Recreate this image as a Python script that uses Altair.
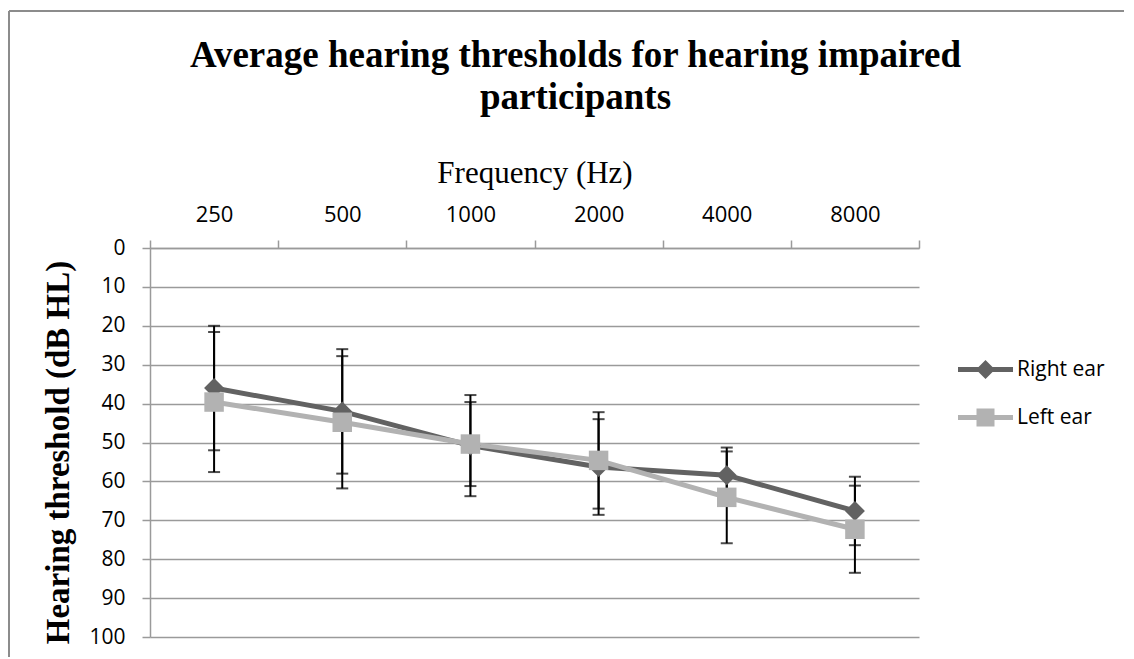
import altair as alt
import pandas as pd

freqs = ["250", "500", "1000", "2000", "4000", "8000"]
right_mean = [36.0, 42.0, 50.8, 56.3, 58.4, 67.6]
right_err = [16.0, 16.0, 13.0, 12.3, 7.1, 8.8]
left_mean = [39.6, 44.8, 50.4, 54.6, 64.1, 72.3]
left_err = [18.0, 17.0, 10.8, 12.4, 11.8, 11.2]
series_names = ["Right ear", "Left ear"]
y_ticks = list(range(0, 101, 10))

DARK = "#626262"
LIGHT = "#b2b2b2"
GRID = "#9a9a9a"

rows = []
for name, means, errs in [("Right ear", right_mean, right_err), ("Left ear", left_mean, left_err)]:
    for f, m, e in zip(freqs, means, errs):
        rows.append({"freq": f, "series": name, "mean": m, "lo": m - e, "hi": m + e})
df = pd.DataFrame(rows)

x_enc = alt.X(
    "freq:O", sort=freqs, bandPosition=0.5,
    scale=alt.Scale(type="band", paddingInner=0, paddingOuter=0),
    axis=alt.Axis(
        orient="top", labelAngle=0, title="Frequency (Hz)", tickBand="extent",
        titleFont="Liberation Serif", titleFontSize=31, titleFontWeight="normal",
        titleColor="black", titlePadding=14,
        labelFont="Open Sans", labelFontSize=22, labelColor="black", labelPadding=14,
        tickSize=8, tickColor=GRID, domainColor=GRID, domainWidth=1.5, tickWidth=1.5,
        grid=False,
    ),
)
y_scale = alt.Scale(domain=[0, 100], reverse=True, nice=False)
y_axis = alt.Axis(
    values=y_ticks, title="Hearing threshold (dB HL)",
    titleFont="Liberation Serif", titleFontSize=33, titleFontWeight="bold",
    titleColor="black", titlePadding=13, titleY=204,
    labelFont="Open Sans", labelFontSize=21, labelColor="black", labelPadding=17,
    tickSize=8, tickColor=GRID, domainColor=GRID, domainWidth=1.5, tickWidth=1.5,
    grid=True, gridColor=GRID, gridWidth=1.5,
)

base = alt.Chart(df)

err_rule = base.mark_rule(color="black", strokeWidth=2).encode(
    x=x_enc, y=alt.Y("lo:Q", scale=y_scale, axis=y_axis), y2="hi:Q"
)
err_lo = base.mark_tick(color="black", thickness=2, size=12, orient="horizontal").encode(
    x=x_enc, y=alt.Y("lo:Q", scale=y_scale, axis=y_axis)
)
err_hi = base.mark_tick(color="black", thickness=2, size=12, orient="horizontal").encode(
    x=x_enc, y=alt.Y("hi:Q", scale=y_scale, axis=y_axis)
)

line_r = base.transform_filter(alt.datum.series == "Right ear").mark_line(
    color=DARK, strokeWidth=5
).encode(x=x_enc, y=alt.Y("mean:Q", scale=y_scale, axis=y_axis))
line_l = base.transform_filter(alt.datum.series == "Left ear").mark_line(
    color=LIGHT, strokeWidth=5
).encode(x=x_enc, y=alt.Y("mean:Q", scale=y_scale, axis=y_axis))
pt_r = base.transform_filter(alt.datum.series == "Right ear").mark_point(
    shape="diamond", filled=True, color=DARK, size=400, opacity=1
).encode(x=x_enc, y=alt.Y("mean:Q", scale=y_scale, axis=y_axis))
pt_l = base.transform_filter(alt.datum.series == "Left ear").mark_point(
    shape="square", filled=True, color=LIGHT, size=380, opacity=1
).encode(x=x_enc, y=alt.Y("mean:Q", scale=y_scale, axis=y_axis))

path_r = "M-2.75,-0.25H2.75V0.25H-2.75ZM0,-0.95L0.95,0L0,0.95L-0.95,0Z"
path_l = "M-2.75,-0.25H2.75V0.25H-2.75ZM-0.9,-0.9H0.9V0.9H-0.9Z"
leg = alt.Legend(
    title=None, orient="none", legendX=825, legendY=111, padding=0,
    labelFont="Open Sans", labelFontSize=21, labelColor="black",
    symbolSize=400, symbolStrokeWidth=0, symbolOpacity=1,
    labelOffset=21, rowPadding=26,
)
legend_layer = base.transform_filter(alt.datum.series == "none").mark_point(
    filled=True, opacity=1
).encode(
    x=x_enc, y=alt.Y("mean:Q", scale=y_scale, axis=y_axis),
    color=alt.Color("series:N", scale=alt.Scale(domain=series_names, range=[DARK, LIGHT]), legend=leg),
    shape=alt.Shape("series:N", scale=alt.Scale(domain=series_names, range=[path_r, path_l]), legend=leg),
)

frame = alt.Chart(alt.Data(values=[{}]))
top_border = frame.mark_rule(color="#8c8c8c", strokeWidth=2).encode(
    x=alt.value(-141), x2=alt.value(1200), y=alt.value(-237)
)
left_border = frame.mark_rule(color="#8c8c8c", strokeWidth=2).encode(
    x=alt.value(-141), y=alt.value(-237), y2=alt.value(420)
)

chart = alt.layer(
    top_border, left_border, err_rule, err_lo, err_hi, line_r, line_l, pt_r, pt_l, legend_layer
).properties(
    width=769, height=389,
    autosize=alt.AutoSizeParams(type="none"),
    padding={"left": 142, "top": 240, "right": 205, "bottom": 20},
    title=alt.TitleParams(
        ["Average hearing thresholds for hearing impaired", "participants"],
        font="Liberation Serif", fontSize=37, fontWeight="bold", color="black",
        anchor="middle", dx=41, dy=117, offset=10, lineHeight=42,
    ),
).configure_view(strokeWidth=0)

chart.save("out.html", embed_options={"renderer": "svg", "actions": False})
